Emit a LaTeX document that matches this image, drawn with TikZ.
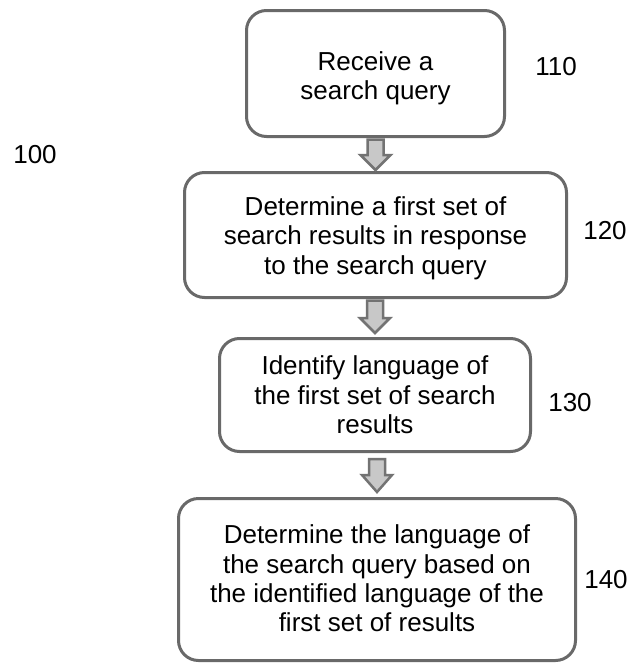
\documentclass[tikz,border=0pt]{standalone}
\usepackage{fontspec}
\setmainfont{Liberation Sans}
\usetikzlibrary{calc}
\definecolor{boxline}{RGB}{105,105,105}
\definecolor{arrfill}{RGB}{200,200,200}
\definecolor{arrline}{RGB}{115,115,115}
\tikzset{
  stepbox/.style={draw=boxline, line width=3pt, rounded corners=20pt, fill=white, inner sep=0pt},
  steptext/.style={align=center, inner sep=0pt, font=\fontsize{26}{29.3}\selectfont},
  reflabel/.style={font=\fontsize{26}{28}\selectfont, inner sep=0pt},
  blk/.style={draw=arrline, fill=arrfill, line width=2.5pt, line join=miter}
}
\begin{document}
\begin{tikzpicture}[x=1pt,y=1pt]
\useasboundingbox (0,0) rectangle (634,-664);
\node[stepbox, minimum width=258pt, minimum height=126pt] (b110) at (375.5,-73.5) {};
\node[stepbox, minimum width=382pt, minimum height=125pt] (b120) at (375.5,-235) {};
\node[stepbox, minimum width=311pt, minimum height=113pt] (b130) at (375,-395) {};
\node[stepbox, minimum width=397pt, minimum height=162pt] (b140) at (377,-579.5) {};
\node[steptext] (t110) at ($(b110.center)+(0,-5)$) {Receive a\\search query};
\node[steptext] (t120) at ($(b120.center)+(0,-3)$) {Determine a first set of\\search results in response\\to the search query};
\node[steptext] (t130) at (b130.center) {Identify language of\\the first set of search\\results};
\node[steptext] (t140) at ($(b140.center)+(0,1)$) {Determine the language of\\the search query based on\\the identified language of the\\first set of results};
\node[reflabel] (l100) at (35,-155) {100};
\node[reflabel] (l110) at (556,-67) {110};
\node[reflabel] (l120) at (605,-231) {120};
\node[reflabel] (l130) at (570,-403) {130};
\node[reflabel] (l140) at (606,-580) {140};
% block arrows
\draw[blk] ($(b110.south -| b120.north)+(-8,-1.5)$) -- ($(b110.south -| b120.north)+(8,-1.5)$)
  -- ($(b120.north)+(8,16)$) -- ($(b120.north)+(15,16)$) -- ($(b120.north)+(0,1)$)
  -- ($(b120.north)+(-15,16)$) -- ($(b120.north)+(-8,16)$) -- cycle;
\draw[blk] ($(b120.south -| b130.north)+(-8,-1.5)$) -- ($(b120.south -| b130.north)+(8,-1.5)$)
  -- ($(b130.north)+(8,19)$) -- ($(b130.north)+(15,19)$) -- ($(b130.north)+(0,4)$)
  -- ($(b130.north)+(-15,19)$) -- ($(b130.north)+(-8,19)$) -- cycle;
\draw[blk] ($(b130.south -| b140.north)+(-8,-6)$) -- ($(b130.south -| b140.north)+(8,-6)$)
  -- ($(b140.north)+(8,22)$) -- ($(b140.north)+(15,22)$) -- ($(b140.north)+(0,5)$)
  -- ($(b140.north)+(-15,22)$) -- ($(b140.north)+(-8,22)$) -- cycle;
\end{tikzpicture}
\end{document}
